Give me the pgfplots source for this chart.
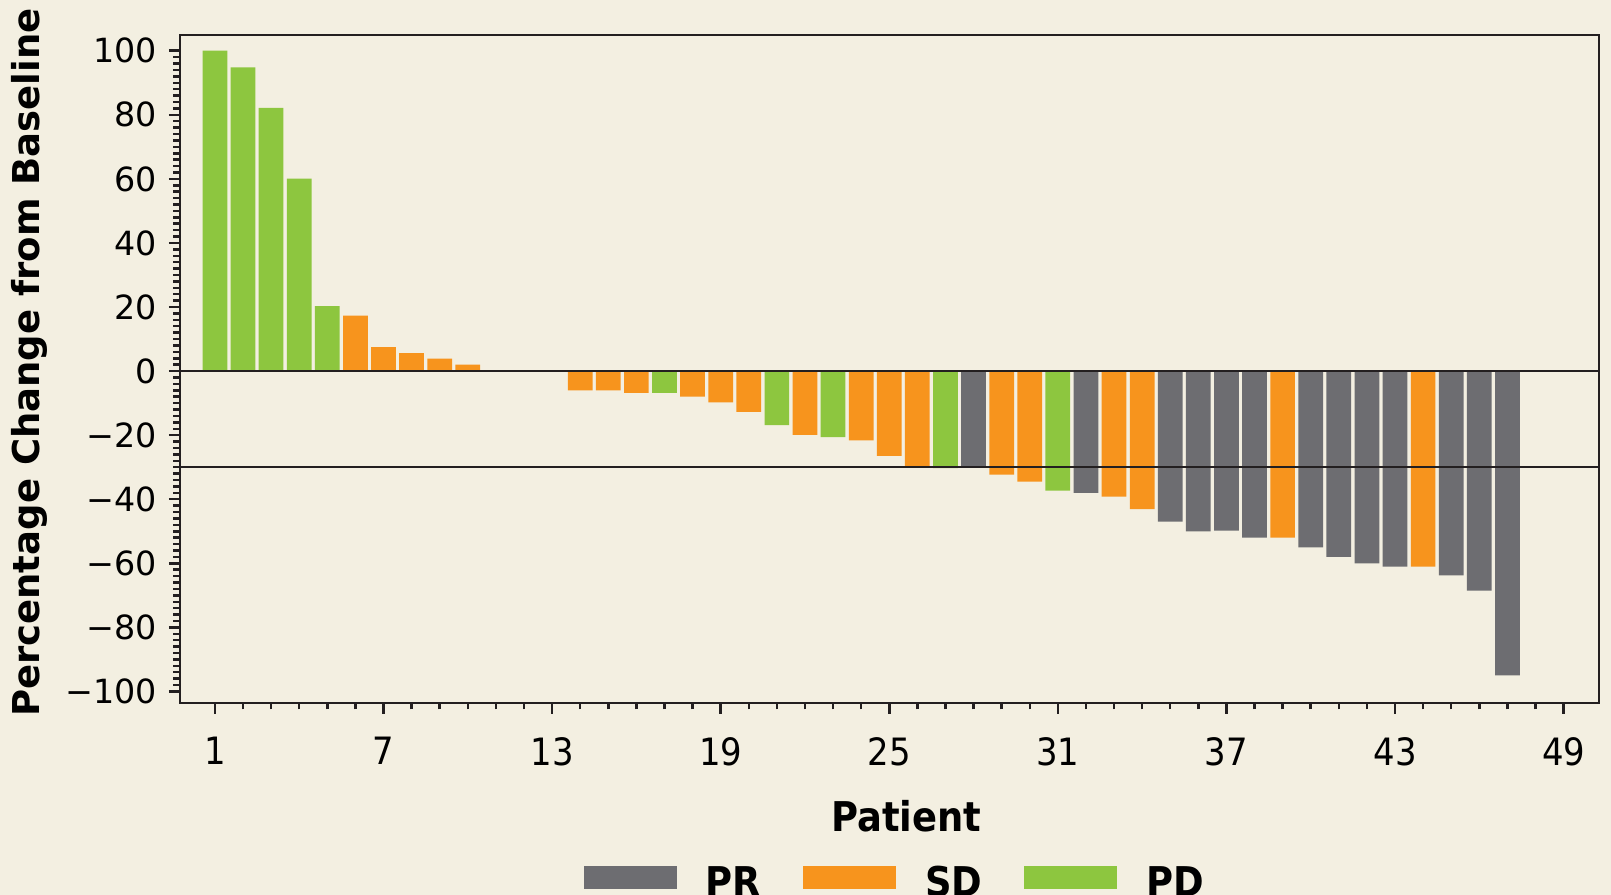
\documentclass[border=0pt]{standalone}
\usepackage{fontspec}
\setmainfont{DejaVu Sans}
\newfontfamily\condfont{DejaVu Sans Condensed}
\usepackage{pgfplots}
\pgfplotsset{compat=1.18}
\usetikzlibrary{backgrounds}
\definecolor{bgcol}{HTML}{F3EFE1}
\definecolor{prcol}{HTML}{6D6D71}
\definecolor{sdcol}{HTML}{F7941D}
\definecolor{pdcol}{HTML}{8DC63F}
\definecolor{axcol}{HTML}{231F20}
\begin{document}
\begin{tikzpicture}
\begin{axis}[
  at={(0,0)}, anchor=south west,
  scale only axis, width=425.7pt, height=200.4pt,
  xmin=-0.25, xmax=50.25, ymin=-103.5, ymax=105,
  axis line style={axcol, line width=0.65pt},
  tick style={axcol, line width=0.75pt},
  tick align=outside,
  xtick pos=bottom, ytick pos=left,
  major tick length=3.3pt, minor tick length=2pt,
  xtick={1,7,13,19,25,31,37,43,49},
  xticklabels={1,7,13,19,25,31,37,43,49},
  minor xtick={2,...,48},
  ytick={-100,-80,-60,-40,-20,0,20,40,60,80,100},
  yticklabels={−100,−80,−60,−40,−20,0,20,40,60,80,100},
  minor y tick num=9,
  xticklabel style={font=\condfont\fontsize{11.3}{13}\selectfont, yshift=-3.5pt},
  yticklabel style={font=\fontsize{10}{12}\selectfont},
  xlabel={Patient},
  ylabel={Percentage Change from Baseline},
  every axis x label/.style={at={(axis description cs:0.512,-0.193)}, anchor=base, inner sep=0pt, font=\condfont\bfseries\fontsize{12.3}{14}\selectfont},
  every axis y label/.style={at={(axis description cs:-0.0929,0.509)}, rotate=90, anchor=south, inner sep=0pt, font=\bfseries\fontsize{11.1}{13}\selectfont},
  ybar, bar width=0.88, bar shift=0pt,
  legend columns=3,
  legend image code/.code={\fill[#1] (0pt,2.4pt) rectangle (27.9pt,9.3pt);},
  legend style={at={(axis description cs:0.2846,-0.244)}, anchor=north west,
    draw=none, fill=none, inner sep=0pt, outer sep=0pt,
    nodes={inner sep=0pt, yshift=3.8pt, font=\condfont\bfseries\fontsize{12.3}{14}\selectfont},
    /tikz/every odd column/.append style={column sep=8.7pt},
    /tikz/every even column/.append style={column sep=12.6pt}},
  legend cell align=left,
]
\addplot[fill=prcol, draw=none] coordinates {
 (28,-30) (32,-38) (35,-47) (36,-50) (37,-49.8) (38,-52) (40,-55) (41,-58)
 (42,-60) (43,-61) (45,-63.8) (46,-68.5) (47,-95)};
\addlegendentry{PR}
\addplot[fill=sdcol, draw=none] coordinates {
 (6,17.3) (7,7.5) (8,5.6) (9,3.9) (10,2.0) (14,-6) (15,-6) (16,-6.8) (18,-8)
 (19,-9.8) (20,-12.7) (22,-19.9) (24,-21.6) (25,-26.5) (26,-30) (29,-32.3)
 (30,-34.5) (33,-39.2) (34,-43.1) (39,-52) (44,-61)};
\addlegendentry{SD}
\addplot[fill=pdcol, draw=none] coordinates {
 (1,100) (2,94.8) (3,82.2) (4,60.1) (5,20.3) (17,-6.8) (21,-16.9) (23,-20.6)
 (27,-30.3) (31,-37.3)};
\addlegendentry{PD}
\draw[axcol, line width=0.75pt] (axis cs:-0.25,0) -- (axis cs:50.25,0);
\draw[axcol, line width=0.65pt] (axis cs:-0.25,-30) -- (axis cs:50.25,-30);
\end{axis}
\begin{pgfonlayer}{background}
\fill[bgcol] (-53.94pt,-57.6pt) rectangle (429.39pt,210.81pt);
\end{pgfonlayer}
\pgfresetboundingbox
\path[use as bounding box] (-53.94pt,-57.6pt) rectangle (429.39pt,210.81pt);
\end{tikzpicture}
\end{document}
